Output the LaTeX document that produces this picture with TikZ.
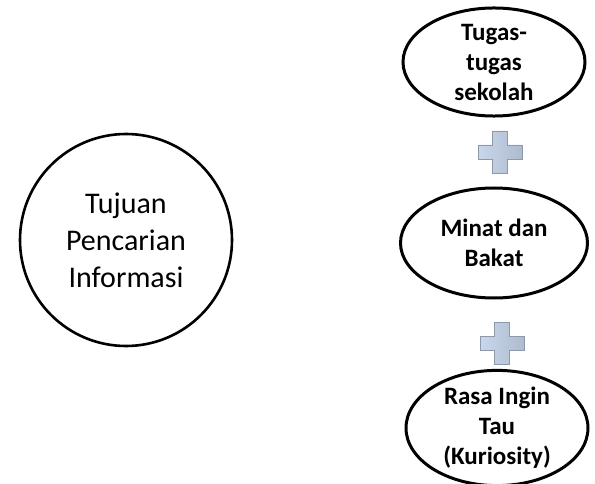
\documentclass[tikz,border=0pt]{standalone}
\usepackage{fontspec}
\setmainfont{Carlito}
\usetikzlibrary{shapes.geometric}
\definecolor{plusfillA}{HTML}{C9D7EC}
\definecolor{plusfillB}{HTML}{AEBBCF}
\definecolor{plusedge}{HTML}{8E98A8}
\tikzset{
  bigcircle/.style={circle, draw=black, line width=2.6pt, minimum size=212pt, inner sep=0pt,
    align=center, font=\fontsize{30}{37}\selectfont},
  ellnode/.style={ellipse, draw=black, line width=3pt, inner sep=0pt,
    align=center, font=\bfseries\fontsize{25}{30}\selectfont},
  pics/plussign/.style={code={
    \path[draw=plusedge, line width=0.9pt, left color=plusfillA, right color=plusfillB]
      (-7.5pt,21pt) -- (7.5pt,21pt) -- (7.5pt,7pt) -- (22pt,7pt) -- (22pt,-7pt) -- (7.5pt,-7pt)
      -- (7.5pt,-21pt) -- (-7.5pt,-21pt) -- (-7.5pt,-7pt) -- (-22pt,-7pt) -- (-22pt,7pt)
      -- (-7.5pt,7pt) -- cycle;
  }}
}
\begin{document}
\begin{tikzpicture}
\useasboundingbox[fill=white] (0pt,0pt) rectangle (595pt,-484pt);
\node[bigcircle] (goal) at (126pt,-240pt) {Tujuan\\Pencarian\\Informasi};
\node[ellnode, minimum width=182pt, minimum height=108pt] (tugas) at (494pt,-62pt) {Tugas-\\tugas\\sekolah};
\node[ellnode, minimum width=187pt, minimum height=110pt] (minat) at (494pt,-243pt) {Minat dan\\Bakat};
\node[ellnode, minimum width=182pt, minimum height=114pt] (rasa) at (497pt,-428pt) {Rasa Ingin\\Tau\\(Kuriosity)};
\pic at (500pt,-152pt) {plussign};
\pic at (502pt,-343pt) {plussign};
\end{tikzpicture}
\end{document}
